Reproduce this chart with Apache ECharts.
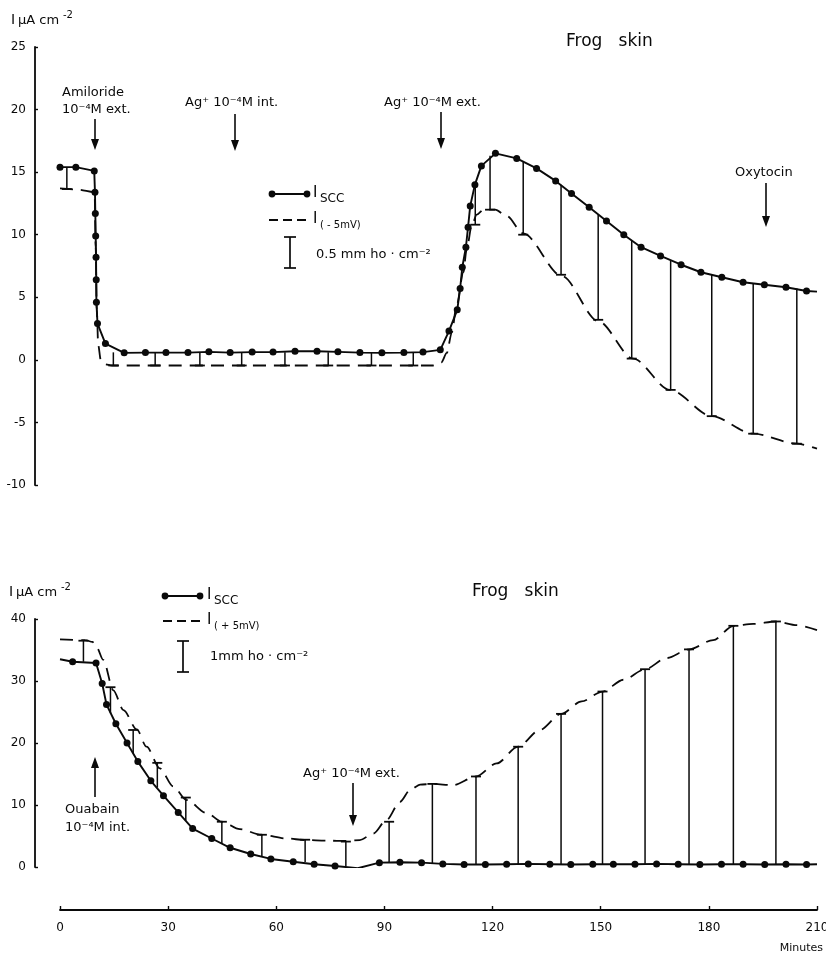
<!DOCTYPE html>
<html><head><meta charset="utf-8">
<script src="https://cdn.jsdelivr.net/npm/echarts@6/dist/echarts.min.js"></script>
<style>html,body{margin:0;padding:0;background:#fff}#c{width:826px;height:957px}</style>
</head><body><div id="c"></div>
<script>
// ---------- axes ----------
const xMin = 0, xMax = 210, xStep = 30;
const topYMin = -10, topYMax = 25, topYStep = 5;
const botYMin = 0, botYMax = 40, botYStep = 10;

// ---------- top panel: amiloride / Ag+ / oxytocin ----------
const topSccT = [0, 4.4, 9.5, 9.7, 9.8, 9.9, 10.0, 10.05, 10.1, 10.4, 12.6, 17.8, 23.7, 29.4, 35.5, 41.3, 47.2, 53.3, 59.1, 65.2, 71.3, 77.1, 83.2, 89.3, 95.4, 100.7, 105.5, 107.9, 110.2, 111.0, 111.6, 112.6, 113.2, 113.8, 115.1, 116.9, 120.8, 126.7, 132.2, 137.5, 141.9, 146.8, 151.6, 156.4, 161.2, 166.6, 172.3, 177.8, 183.6, 189.5, 195.4, 201.4, 207.1, 210];
const topSccV = [15.4, 15.4, 15.1, 13.4, 11.7, 9.9, 8.2, 6.4, 4.6, 2.9, 1.3, 0.56, 0.58, 0.58, 0.58, 0.64, 0.58, 0.62, 0.62, 0.69, 0.69, 0.64, 0.58, 0.56, 0.58, 0.62, 0.8, 2.3, 4.0, 5.7, 7.4, 9.0, 10.6, 12.3, 14.0, 15.5, 16.5, 16.1, 15.3, 14.3, 13.3, 12.2, 11.1, 10.0, 9.0, 8.3, 7.6, 7.0, 6.6, 6.2, 6.0, 5.8, 5.5, 5.45];
const topDashT = [0, 5, 9.6, 9.9, 10.2, 10.6, 11.3, 12.5, 14.5, 17, 60, 103.5, 105.8, 107.3, 108.7, 110, 111.9, 112.8, 114.2, 115.6, 117.5, 120.7, 123.9, 128.5, 139.2, 149.3, 159, 169.2, 180.8, 192.3, 204.4, 210];
const topDashV = [13.7, 13.6, 13.4, 9, 4, 1.2, 0.0, -0.35, -0.45, -0.45, -0.45, -0.45, -0.2, 0.55, 2.2, 4.3, 7.0, 8.8, 10.7, 11.6, 12.0, 12.0, 11.5, 10.1, 6.7, 3.1, 0.1, -2.4, -4.5, -5.9, -6.7, -7.1];
const topBarT    = [1.9, 14.8, 26.4, 38.8, 50.4, 62.4, 74.4, 86.4, 98.0, 115.2, 119.3, 128.5, 139, 149.3, 158.6, 169.4, 180.8, 192.3, 204.4];
const topBarScc  = [15.4, 0.6, 0.6, 0.6, 0.6, 0.6, 0.6, 0.6, 0.6, 13.9, 16.3, 15.9, 14.0, 11.6, 9.5, 7.9, 6.8, 6.1, 5.7];
const topBarDash = [13.65, -0.45, -0.45, -0.45, -0.45, -0.45, -0.45, -0.45, -0.45, 10.8, 12.0, 10.0, 6.8, 3.2, 0.1, -2.4, -4.5, -5.9, -6.7];

// ---------- bottom panel: ouabain / Ag+ ----------
const botSccT = [0, 3.5, 10, 11.7, 12.9, 15.5, 18.6, 21.6, 25.2, 28.7, 32.8, 36.8, 42.1, 47.2, 52.9, 58.5, 64.7, 70.5, 76.3, 82.6, 88.6, 94.3, 100.3, 106.2, 112.1, 118, 123.9, 129.9, 135.9, 141.7, 147.8, 153.5, 159.5, 165.5, 171.5, 177.5, 183.5, 189.5, 195.5, 201.4, 207.1, 210];
const botSccV = [33.5, 33.1, 32.9, 29.6, 26.2, 23.1, 20.0, 17.0, 13.9, 11.5, 8.8, 6.2, 4.6, 3.1, 2.1, 1.3, 0.85, 0.44, 0.16, -0.2, 0.7, 0.76, 0.7, 0.5, 0.4, 0.4, 0.45, 0.5, 0.45, 0.4, 0.45, 0.45, 0.45, 0.5, 0.45, 0.4, 0.45, 0.45, 0.4, 0.45, 0.4, 0.45];
const botDashT = [0, 7, 9, 10.2, 12, 14.8, 17.6, 21.3, 24, 27.7, 31.4, 35.1, 40.7, 44.9, 49.9, 55.9, 62.9, 68, 74, 79.5, 83.2, 86.9, 90.6, 94.3, 97.1, 99.9, 103.3, 109.1, 115.4, 121.1, 127.1, 133.1, 139, 144.7, 150.5, 156.3, 162.3, 168.3, 174.5, 181.2, 186.8, 192.3, 198.6, 204.4, 210];
const botDashV = [36.7, 36.6, 36.3, 35.4, 33.4, 28.5, 25.3, 22.2, 19.4, 15.9, 13.0, 10.8, 8.7, 7.3, 6.1, 5.2, 4.6, 4.35, 4.25, 4.2, 4.35, 5.4, 7.6, 10.5, 12.4, 13.3, 13.4, 13.2, 14.6, 16.7, 19.4, 22.1, 24.7, 26.7, 28.3, 30.2, 31.9, 33.7, 35.1, 36.6, 38.9, 39.2, 39.6, 39.0, 38.2];
const botBarT    = [6.5, 14, 20.3, 27, 34.9, 44.9, 56, 68, 79.3, 91.3, 103.3, 115.4, 127.1, 139, 150.5, 162.3, 174.5, 186.8, 198.6];
const botBarScc  = [33.1, 24.8, 18.4, 12.8, 7.5, 3.8, 1.7, 0.8, 0.1, 0.8, 0.5, 0.45, 0.45, 0.45, 0.45, 0.45, 0.45, 0.45, 0.45];
const botBarDash = [36.5, 29.0, 22.1, 16.8, 11.2, 7.3, 5.2, 4.4, 4.1, 7.3, 13.4, 14.6, 19.4, 24.7, 28.3, 31.9, 35.1, 38.9, 39.6];

// ---------- helpers ----------
const INK = '#0a0a0a';
const FONT = 'DejaVu Sans';
function pts(T, V, noSymbolIdx) {
  return T.map((t, i) => noSymbolIdx.includes(i) ? {value: [t, V[i]], symbol: 'none'} : [t, V[i]]);
}
function bars(T, A, B) { return T.map((t, i) => [t, A[i], B[i]]); }
function barRenderer(capHalf) {
  return function (params, api) {
    const t = api.value(0), a = api.value(1), b = api.value(2);
    const p1 = api.coord([t, a]), p2 = api.coord([t, b]);
    return {type: 'group', children: [
      {type: 'line', shape: {x1: p1[0], y1: p1[1], x2: p2[0], y2: p2[1]}, style: {stroke: INK, lineWidth: 1.5}},
      {type: 'line', shape: {x1: p2[0] - capHalf, y1: p2[1], x2: p2[0] + capHalf, y2: p2[1]}, style: {stroke: INK, lineWidth: 1.8}}
    ]};
  };
}
function txt(x, y, s, size, align, extra) {
  return Object.assign({type: 'text', x: x, y: y, style: {text: s, fill: INK, font: (size || 13) + 'px "' + FONT + '"', textAlign: align || 'left', textVerticalAlign: 'middle'}}, extra || {});
}
function arrowDown(x, y1, y2) {
  return {type: 'group', children: [
    {type: 'line', shape: {x1: x, y1: y1, x2: x, y2: y2 - 6}, style: {stroke: INK, lineWidth: 1.6}},
    {type: 'polygon', shape: {points: [[x - 4, y2 - 11], [x + 4, y2 - 11], [x, y2]]}, style: {fill: INK}}
  ]};
}
function arrowUp(x, y1, y2) { // from y1 (bottom) up to tip y2
  return {type: 'group', children: [
    {type: 'line', shape: {x1: x, y1: y1, x2: x, y2: y2 + 6}, style: {stroke: INK, lineWidth: 1.6}},
    {type: 'polygon', shape: {points: [[x - 4, y2 + 11], [x + 4, y2 + 11], [x, y2]]}, style: {fill: INK}}
  ]};
}
function legendSolid(x1, x2, y) {
  return {type: 'group', children: [
    {type: 'line', shape: {x1: x1, y1: y, x2: x2, y2: y}, style: {stroke: INK, lineWidth: 1.8}},
    {type: 'circle', shape: {cx: x1, cy: y, r: 3.4}, style: {fill: INK}},
    {type: 'circle', shape: {cx: x2, cy: y, r: 3.4}, style: {fill: INK}}
  ]};
}
function legendDash(x1, x2, y) {
  return {type: 'line', shape: {x1: x1, y1: y, x2: x2, y2: y}, style: {stroke: INK, lineWidth: 1.8, lineDash: [9, 5]}};
}
function scaleBar(x, y1, y2, half) {
  return {type: 'group', children: [
    {type: 'line', shape: {x1: x, y1: y1, x2: x, y2: y2}, style: {stroke: INK, lineWidth: 1.7}},
    {type: 'line', shape: {x1: x - half, y1: y1, x2: x + half, y2: y1}, style: {stroke: INK, lineWidth: 1.7}},
    {type: 'line', shape: {x1: x - half, y1: y2, x2: x + half, y2: y2}, style: {stroke: INK, lineWidth: 1.7}}
  ]};
}
function unitLabel(x, y) {
  return {type: 'group', children: [
    txt(x, y, 'I', 14),
    txt(x + 7, y + 1, 'μA cm', 13),
    txt(x + 52, y - 5, '-2', 10)
  ]};
}

const lineBase = {type: 'line', symbol: 'circle', symbolSize: 7, showSymbol: true,
  itemStyle: {color: INK}, lineStyle: {color: INK, width: 1.9}, animation: false, z: 3};
const dashBase = {type: 'line', symbol: 'none', smooth: 0.3, smoothMonotone: 'x',
  lineStyle: {color: INK, width: 1.8, type: [13, 8]}, animation: false, z: 2};

const chart = echarts.init(document.getElementById('c'), null, {renderer: 'canvas'});
chart.setOption({
  backgroundColor: '#fff',
  animation: false,
  grid: [
    {left: 60, right: 9, top: 47, height: 438, outerBoundsMode: 'none'},
    {left: 60, right: 9, top: 619, height: 248, outerBoundsMode: 'none'}
  ],
  xAxis: [
    {gridIndex: 0, type: 'value', min: xMin, max: xMax, interval: xStep, show: false},
    {gridIndex: 1, type: 'value', min: xMin, max: xMax, interval: xStep, offset: 43,
      axisLine: {show: true, onZero: false, lineStyle: {color: INK, width: 1.8}},
      axisTick: {show: true, inside: true, length: 4, lineStyle: {color: INK, width: 1.4}},
      axisLabel: {color: INK, fontSize: 12, fontFamily: FONT, margin: 12},
      splitLine: {show: false}}
  ],
  yAxis: [
    {gridIndex: 0, type: 'value', min: topYMin, max: topYMax, interval: topYStep, offset: 25,
      axisLine: {show: true, onZero: false, lineStyle: {color: INK, width: 1.8}},
      axisTick: {show: true, inside: true, length: 3, lineStyle: {color: INK, width: 1.4}},
      axisLabel: {color: INK, fontSize: 12, fontFamily: FONT, margin: 9},
      splitLine: {show: false}},
    {gridIndex: 1, type: 'value', min: botYMin, max: botYMax, interval: botYStep, offset: 25,
      axisLine: {show: true, onZero: false, lineStyle: {color: INK, width: 1.8}},
      axisTick: {show: true, inside: true, length: 3, lineStyle: {color: INK, width: 1.4}},
      axisLabel: {color: INK, fontSize: 12, fontFamily: FONT, margin: 9},
      splitLine: {show: false}}
  ],
  series: [
    {type: 'custom', xAxisIndex: 0, yAxisIndex: 0, renderItem: barRenderer(5), data: bars(topBarT, topBarScc, topBarDash), encode: {x: 0, y: [1, 2]}, z: 1, animation: false},
    Object.assign({}, dashBase, {xAxisIndex: 0, yAxisIndex: 0, data: pts(topDashT, topDashV, [])}),
    Object.assign({}, lineBase, {xAxisIndex: 0, yAxisIndex: 0, data: pts(topSccT, topSccV, [topSccT.length - 1])}),
    {type: 'custom', xAxisIndex: 1, yAxisIndex: 1, renderItem: barRenderer(5), data: bars(botBarT, botBarScc, botBarDash), encode: {x: 0, y: [1, 2]}, z: 1, animation: false},
    Object.assign({}, dashBase, {xAxisIndex: 1, yAxisIndex: 1, data: pts(botDashT, botDashV, [])}),
    Object.assign({}, lineBase, {xAxisIndex: 1, yAxisIndex: 1, data: pts(botSccT, botSccV, [0, botSccT.length - 1])})
  ],
  graphic: [
    // top panel
    unitLabel(11, 20),
    txt(566, 42, 'Frog   skin', 17, 'left'),
    txt(62, 93, 'Amiloride', 13),
    txt(62, 110, '10⁻⁴M ext.', 13),
    arrowDown(95, 119, 150),
    txt(185, 103, 'Ag⁺ 10⁻⁴M int.', 13),
    arrowDown(235, 114, 151),
    txt(384, 103, 'Ag⁺ 10⁻⁴M ext.', 13),
    arrowDown(441, 112, 149),
    txt(735, 173, 'Oxytocin', 13),
    arrowDown(766, 183, 227),
    legendSolid(272, 307, 194),
    txt(313, 193, 'I', 15),
    txt(320, 199, 'SCC', 12),
    legendDash(269, 306, 220),
    txt(313, 219, 'I', 15),
    txt(320, 225, '( - 5mV)', 10),
    scaleBar(290, 237, 268, 6),
    txt(316, 255, '0.5 mm ho · cm⁻²', 13),
    // bottom panel
    unitLabel(9, 592),
    txt(472, 592, 'Frog   skin', 17, 'left'),
    legendSolid(165, 200, 596),
    txt(207, 595, 'I', 15),
    txt(214, 601, 'SCC', 12),
    legendDash(163, 200, 621),
    txt(207, 620, 'I', 15),
    txt(214, 626, '( + 5mV)', 10),
    scaleBar(183, 641, 672, 6),
    txt(210, 657, '1mm ho · cm⁻²', 13),
    txt(303, 774, 'Ag⁺ 10⁻⁴M ext.', 13),
    arrowDown(353, 783, 826),
    arrowUp(95, 797, 757),
    txt(65, 810, 'Ouabain', 13),
    txt(65, 828, '10⁻⁴M int.', 13),
    txt(823, 948, 'Minutes', 11, 'right')
  ]
});
</script></body></html>
